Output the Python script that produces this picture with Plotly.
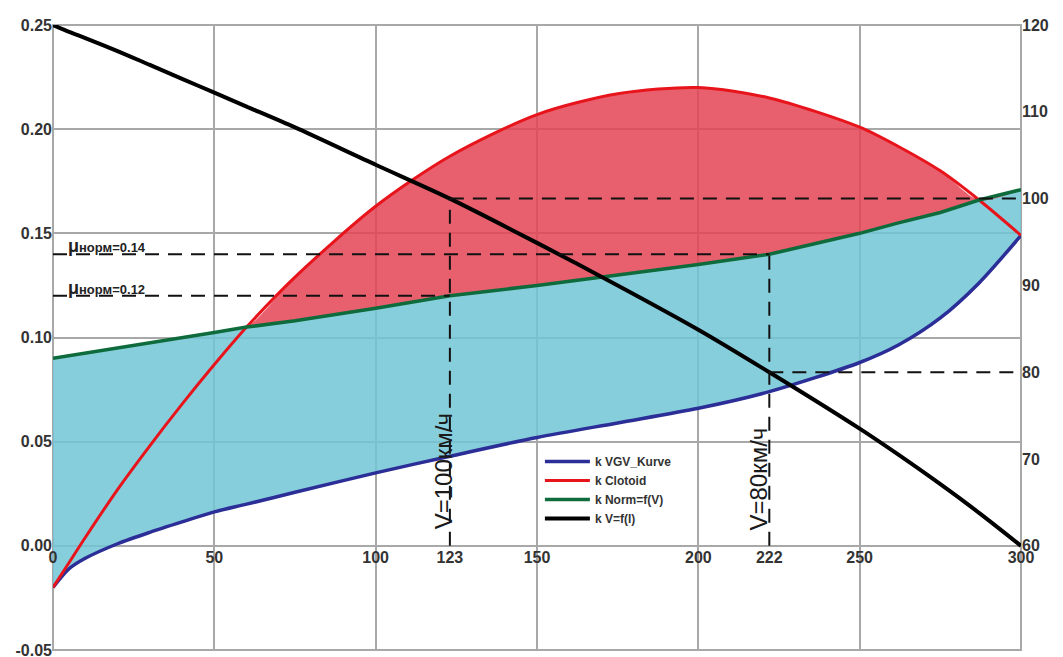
import plotly.graph_objects as go

# ---- data ----
l_vals = [0, 5, 10, 20, 30, 40, 50, 60, 75, 100, 123, 150, 175, 200, 222, 250, 262, 275, 287, 300]
k_vgv = [-0.020, -0.011, -0.006, 0.001, 0.0065, 0.0115, 0.0163, 0.0200, 0.0257, 0.035, 0.043,
         0.052, 0.059, 0.066, 0.074, 0.088, 0.0964, 0.1094, 0.1262, 0.149]
k_clotoid = [-0.020, -0.008, 0.004, 0.027, 0.048, 0.068, 0.087, 0.105, 0.129, 0.163, 0.187,
             0.207, 0.217, 0.220, 0.215, 0.201, 0.1917, 0.180, 0.166, 0.149]
k_norm = [0.090, 0.0912, 0.0925, 0.095, 0.0975, 0.100, 0.1024, 0.105, 0.108, 0.114, 0.120,
          0.125, 0.130, 0.135, 0.140, 0.150, 0.155, 0.160, 0.166, 0.171]
v_speed = [120.0, 119.2, 118.5, 117.0, 115.4, 113.8, 112.2, 110.6, 108.2, 103.9, 100.0,
           94.9, 90.0, 84.9, 80.0, 73.5, 70.5, 67.1, 63.8, 60.0]

x_ticks = [0, 50, 100, 123, 150, 200, 222, 250, 300]
x_grid = [50, 100, 150, 200, 250, 300]
y_ticks = [-0.05, 0.0, 0.05, 0.10, 0.15, 0.20, 0.25]
y_tick_text = ["-0.05", "0.00", "0.05", "0.10", "0.15", "0.20", "0.25"]
v_ticks = [60, 70, 80, 90, 100, 110, 120]

l_100, l_80 = 123, 222
mu_14, mu_12 = 0.14, 0.12
v_100, v_80 = 100, 80

red_top = [max(a, b) for a, b in zip(k_clotoid, k_norm)]
SM = 0.8

fig = go.Figure()

# fills
fig.add_trace(go.Scatter(x=l_vals, y=k_vgv, mode="lines", line=dict(width=0, shape="spline", smoothing=SM),
                         showlegend=False, hoverinfo="skip"))
fig.add_trace(go.Scatter(x=l_vals, y=k_norm, mode="lines", line=dict(width=0),
                         fill="tonexty", fillcolor="rgba(114,197,214,0.85)",
                         showlegend=False, hoverinfo="skip"))
fig.add_trace(go.Scatter(x=l_vals, y=red_top, mode="lines", line=dict(width=0, shape="spline", smoothing=SM),
                         fill="tonexty", fillcolor="rgba(228,68,85,0.85)",
                         showlegend=False, hoverinfo="skip"))

# dashed reference lines
dash = dict(color="#111111", width=2, dash="14px,9px")
fig.add_shape(type="line", x0=0, x1=l_80, y0=mu_14, y1=mu_14, xref="x", yref="y", line=dash)
fig.add_shape(type="line", x0=0, x1=l_100, y0=mu_12, y1=mu_12, xref="x", yref="y", line=dash)
fig.add_shape(type="line", x0=l_100, x1=l_100, y0=0, y1=(v_100 - 60) / 240, xref="x", yref="y", line=dash)
fig.add_shape(type="line", x0=l_80, x1=l_80, y0=0, y1=mu_14, xref="x", yref="y", line=dash)
fig.add_shape(type="line", x0=l_100, x1=300, y0=v_100, y1=v_100, xref="x", yref="y2", line=dash)
fig.add_shape(type="line", x0=l_80, x1=300, y0=v_80, y1=v_80, xref="x", yref="y2", line=dash)

# lines
fig.add_trace(go.Scatter(x=l_vals, y=k_vgv, mode="lines", name="k VGV_Kurve",
                         line=dict(color="#2B2E96", width=3.5, shape="spline", smoothing=SM)))
fig.add_trace(go.Scatter(x=l_vals, y=k_clotoid, mode="lines", name="k Clotoid",
                         line=dict(color="#E8141C", width=3, shape="spline", smoothing=SM)))
fig.add_trace(go.Scatter(x=l_vals, y=k_norm, mode="lines", name="k Norm=f(V)",
                         line=dict(color="#0E6B3B", width=3.5)))
fig.add_trace(go.Scatter(x=l_vals, y=v_speed, mode="lines", name="k V=f(l)", yaxis="y2",
                         line=dict(color="#000000", width=4, shape="spline", smoothing=SM)))

tickfont = dict(family="Liberation Sans, Arial", size=16, color="#333333", weight="bold")

fig.update_layout(
    width=1055, height=649,
    margin=dict(l=45, r=42, t=17, b=7),
    paper_bgcolor="white", plot_bgcolor="white",
    xaxis=dict(range=[0, 300], tickvals=x_ticks, ticktext=[str(v) for v in x_ticks],
               showgrid=False, zeroline=False, showline=False, ticks="", automargin=False,
               anchor="free", position=(0 - (-0.05)) / 0.30, tickfont=tickfont,
               ticklabeloverflow="allow",
               minor=dict(tickvals=x_grid, showgrid=True, gridcolor="#A8A8A8", gridwidth=1.5, ticks="")),
    yaxis=dict(range=[-0.05, 0.25], tickvals=y_ticks, ticktext=y_tick_text, automargin=False,
               showgrid=True, gridcolor="#A8A8A8", gridwidth=1.5, zeroline=False,
               showline=False, ticks="", tickfont=tickfont, ticklabeloverflow="allow"),
    yaxis2=dict(range=[48, 120], tickvals=v_ticks, overlaying="y", side="right", automargin=False,
                showgrid=False, zeroline=False, showline=False, ticks="", tickfont=tickfont,
                ticklabeloverflow="allow"),
    legend=dict(x=0.503, y=0.325, xanchor="left", yanchor="top", bgcolor="rgba(0,0,0,0)",
                traceorder="normal",
                font=dict(family="Liberation Sans, Arial", size=12, color="#333333", weight="bold"),
                itemwidth=45, tracegroupgap=0),
    showlegend=True,
)

# frame
fig.add_shape(type="rect", xref="paper", yref="paper", x0=0, x1=1, y0=0, y1=1,
              line=dict(color="#A8A8A8", width=2), layer="below")

ann_font = dict(family="Liberation Sans, Arial", size=13, color="#222222", weight="bold")
fig.add_annotation(x=4, y=mu_14, xref="x", yref="y", xanchor="left", yanchor="bottom",
                   text="<span style='font-size:18px'>μ</span>норм=0.14", showarrow=False,
                   font=ann_font, yshift=-4)
fig.add_annotation(x=4, y=mu_12, xref="x", yref="y", xanchor="left", yanchor="bottom",
                   text="<span style='font-size:18px'>μ</span>норм=0.12", showarrow=False,
                   font=ann_font, yshift=-4)

vt_font = dict(family="Liberation Sans, Arial", size=24, color="#1a1a1a")
fig.add_annotation(x=121.0, y=0.036, xref="x", yref="y", text="V=100км/ч", textangle=-90,
                   showarrow=False, font=vt_font)
fig.add_annotation(x=218.6, y=0.032, xref="x", yref="y", text="V=80км/ч", textangle=-90,
                   showarrow=False, font=vt_font)

fig.write_html("out.html")
